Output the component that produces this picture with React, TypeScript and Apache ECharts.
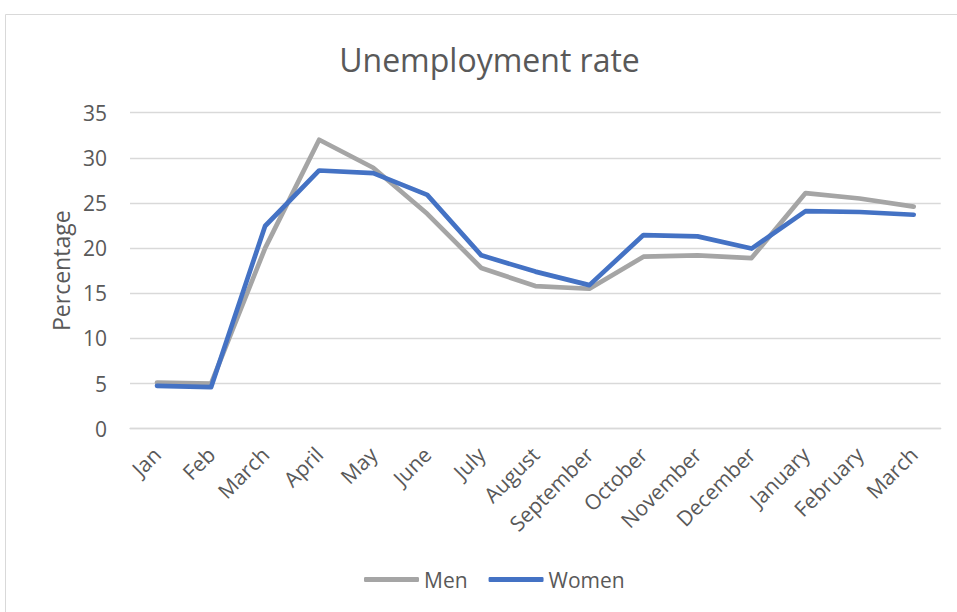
import React, { useEffect, useRef } from "react";
import * as echarts from "echarts";

const categories = [
  "Jan", "Feb", "March", "April", "May", "June", "July", "August",
  "September", "October", "November", "December", "January", "February", "March",
];
const menValues = [5.1, 5.0, 20.0, 32.0, 28.9, 23.8, 17.8, 15.8, 15.5, 19.05, 19.2, 18.9, 26.1, 25.5, 24.6];
const womenValues = [4.75, 4.6, 22.45, 28.6, 28.3, 25.9, 19.2, 17.4, 15.9, 21.45, 21.3, 19.95, 24.1, 24.0, 23.7];
const yTicks = { min: 0, max: 35, interval: 5 };

const FONT = "'Open Sans', 'Noto Sans', sans-serif";
const TEXT = "#595959";

export default function App() {
  const ref = useRef<HTMLDivElement>(null);
  useEffect(() => {
    if (!ref.current) return;
    const chart = echarts.init(ref.current, undefined, { renderer: "svg" });
    chart.setOption({
      animation: false,
      backgroundColor: "#ffffff",
      textStyle: { fontFamily: FONT, color: TEXT },
      graphic: [
        {
          type: "rect",
          shape: { x: 5.5, y: 14.5, width: 1000, height: 700 },
          style: { fill: "none", stroke: "#D9D9D9", lineWidth: 1 },
          silent: true,
        },
        {
          type: "text",
          x: 489.5,
          y: 59,
          style: {
            text: "Unemployment rate",
            fontFamily: FONT,
            fontSize: 32,
            fill: TEXT,
            textAlign: "center",
            textVerticalAlign: "middle",
          },
        },
      ],
      legend: {
        data: [
          { name: "Men", icon: "roundRect" },
          { name: "Women", icon: "roundRect" },
        ],
        left: 359,
        top: 564,
        itemWidth: 55,
        itemHeight: 5,
        itemGap: 21,
        textStyle: { fontFamily: FONT, fontSize: 21, color: TEXT },
      },
      grid: { left: 130, right: 16.3, top: 112.7, bottom: 183.3, containLabel: false },
      xAxis: {
        type: "category",
        data: categories,
        boundaryGap: true,
        axisLine: { show: true, lineStyle: { color: "#D9D9D9", width: 1.3 } },
        axisTick: { show: false },
        axisLabel: {
          interval: 0,
          rotate: 45,
          margin: 22,
          fontFamily: FONT,
          fontSize: 21,
          color: TEXT,
        },
      },
      yAxis: {
        type: "value",
        min: yTicks.min,
        max: yTicks.max,
        interval: yTicks.interval,
        name: "Percentage",
        nameLocation: "middle",
        nameRotate: 90,
        nameGap: 57,
        nameTextStyle: { fontFamily: FONT, fontSize: 23, color: TEXT },
        axisLine: { show: false },
        axisTick: { show: false },
        axisLabel: { margin: 23, fontFamily: FONT, fontSize: 21, color: TEXT },
        splitLine: { show: true, lineStyle: { color: "#D9D9D9", width: 1.3 } },
      },
      series: [
        {
          name: "Men",
          type: "line",
          data: menValues,
          symbol: "none",
          color: "#A5A5A5",
          lineStyle: { color: "#A5A5A5", width: 4.7, cap: "round", join: "round" },
          z: 2,
        },
        {
          name: "Women",
          type: "line",
          data: womenValues,
          symbol: "none",
          color: "#4472C4",
          lineStyle: { color: "#4472C4", width: 4.7, cap: "round", join: "round" },
          z: 3,
        },
      ],
    });
    return () => chart.dispose();
  }, []);
  return (
    <div
      ref={ref}
      style={{ position: "fixed", left: 0, top: 0, width: 957, height: 612 }}
    />
  );
}
